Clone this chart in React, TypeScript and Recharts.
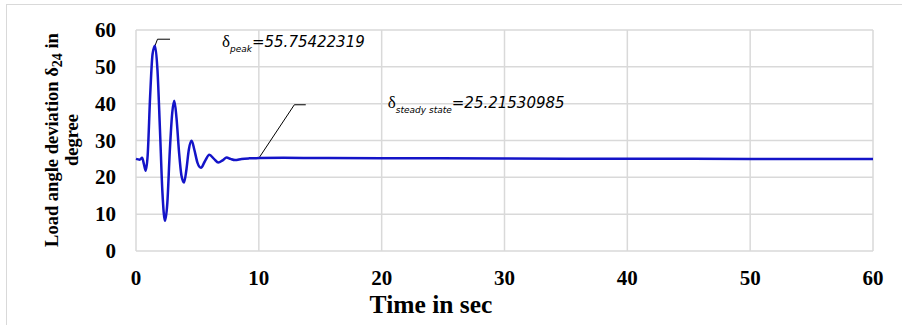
import { LineChart, Line, XAxis, YAxis, CartesianGrid, ReferenceLine, ReferenceDot } from 'recharts'

// time (s) and load angle deviation delta_24 (deg)
const time = [
  0, 0.3, 0.5, 0.65, 0.79, 0.95, 1.15, 1.35, 1.55, 1.75, 1.95, 2.15, 2.36, 2.55, 2.75, 2.95, 3.12, 3.3, 3.5, 3.7,
  3.91, 4.1, 4.3, 4.53, 4.75, 5.0, 5.29, 5.6, 5.97, 6.35, 6.7, 7.05, 7.38, 7.7, 8.06, 8.6, 9.2, 10, 12, 15, 20, 30,
  40, 50, 60,
]
const delta = [
  25, 24.8, 25.3, 23.5, 21.8, 26, 42, 53.5, 55.75, 49, 33, 16, 8.2, 13, 27, 37.5, 40.8, 36, 27, 20.5,
  18.6, 22, 27.5, 29.9, 27.5, 24, 22.6, 24.3, 26.1, 25, 24.0, 24.6, 25.4, 25.0, 24.7, 25.0, 25.15, 25.22, 25.3, 25.25, 25.2, 25.1,
  25.05, 25.0, 25.0,
]
const xTicks = [0, 10, 20, 30, 40, 50, 60]
const yTicks = [0, 10, 20, 30, 40, 50, 60]

const data = time.map((t, i) => ({ t, d: delta[i] }))

const serif = '"Liberation Serif", "Times New Roman", serif'
const script = '"DejaVu Sans", sans-serif'

function PeakLabel(p: any) {
  return (
    <text x={p.cx} y={p.cy} fontFamily={serif} fontSize={17} fill="#000">
      δ
      <tspan dy={5} fontSize={9} fontStyle="italic" fontFamily={script}>peak</tspan>
      <tspan dy={-5} fontSize={15} fontStyle="italic" fontFamily={script}>=55.75422319</tspan>
    </text>
  )
}

function SteadyLabel(p: any) {
  return (
    <text x={p.cx} y={p.cy} fontFamily={serif} fontSize={17} fill="#000">
      δ
      <tspan dy={5} fontSize={9} fontStyle="italic" fontFamily={script}>steady state</tspan>
      <tspan dy={-5} fontSize={15} fontStyle="italic" fontFamily={script}>=25.21530985</tspan>
    </text>
  )
}

function XTick(p: any) {
  return (
    <text x={p.x} y={285} textAnchor="middle" fontFamily={serif} fontSize={21} fontWeight="bold" fill="#000">
      {p.payload.value}
    </text>
  )
}

function YTick(p: any) {
  return (
    <text x={116} y={p.y + 7} textAnchor="end" fontFamily={serif} fontSize={21} fontWeight="bold" fill="#000">
      {p.payload.value}
    </text>
  )
}

export default function App() {
  return (
    <div style={{ position: 'fixed', inset: 0, overflow: 'hidden', background: '#fff' }}>
      <div style={{ position: 'absolute', left: 6, top: 4, width: 1000, height: 400, border: '1px solid #d9d9d9' }} />
      <div style={{ position: 'absolute', left: 0, top: 0 }}>
        <LineChart width={902} height={325} data={data} margin={{ top: 30, right: 29, bottom: 34, left: 0 }}>
          <CartesianGrid stroke="#d9d9d9" strokeWidth={1.5} />
          <XAxis
            dataKey="t"
            type="number"
            domain={[0, 60]}
            ticks={xTicks}
            height={40}
            axisLine={false}
            tickLine={false}
            tick={XTick}
            label={{
              content: () => (
                <text x={431} y={313} textAnchor="middle" fontFamily={serif} fontSize={25.5} fontWeight="bold" fill="#000">
                  Time in sec
                </text>
              ),
            }}
          />
          <YAxis
            type="number"
            domain={[0, 60]}
            ticks={yTicks}
            width={136}
            axisLine={false}
            tickLine={false}
            tick={YTick}
            label={{
              content: () => (
                <g fontFamily={serif} fontWeight="bold" fontSize={18.5} fill="#000">
                  <text transform="translate(58,140) rotate(-90)" textAnchor="middle">
                    Load angle deviation δ<tspan dy={4} fontSize={14}>24</tspan>
                    <tspan dy={-4}> in</tspan>
                  </text>
                  <text transform="translate(78,140) rotate(-90)" textAnchor="middle">degree</text>
                </g>
              ),
            }}
          />
          <ReferenceLine segment={[{ x: 1.55, y: 55.75 }, { x: 1.75, y: 57.5 }]} stroke="#000" strokeWidth={1} />
          <ReferenceLine segment={[{ x: 1.75, y: 57.5 }, { x: 2.77, y: 57.5 }]} stroke="#000" strokeWidth={1} />
          <ReferenceLine segment={[{ x: 10, y: 25.2 }, { x: 12.89, y: 39.7 }]} stroke="#000" strokeWidth={1} />
          <ReferenceLine segment={[{ x: 12.89, y: 39.7 }, { x: 13.82, y: 39.7 }]} stroke="#000" strokeWidth={1} />
          <Line
            type="monotone"
            dataKey="d"
            stroke="#1414c8"
            strokeWidth={2.5}
            dot={false}
            isAnimationActive={false}
          />
          <ReferenceDot x={7.0} y={55.4} r={0} shape={PeakLabel} />
          <ReferenceDot x={20.5} y={38.8} r={0} shape={SteadyLabel} />
        </LineChart>
      </div>
    </div>
  )
}
